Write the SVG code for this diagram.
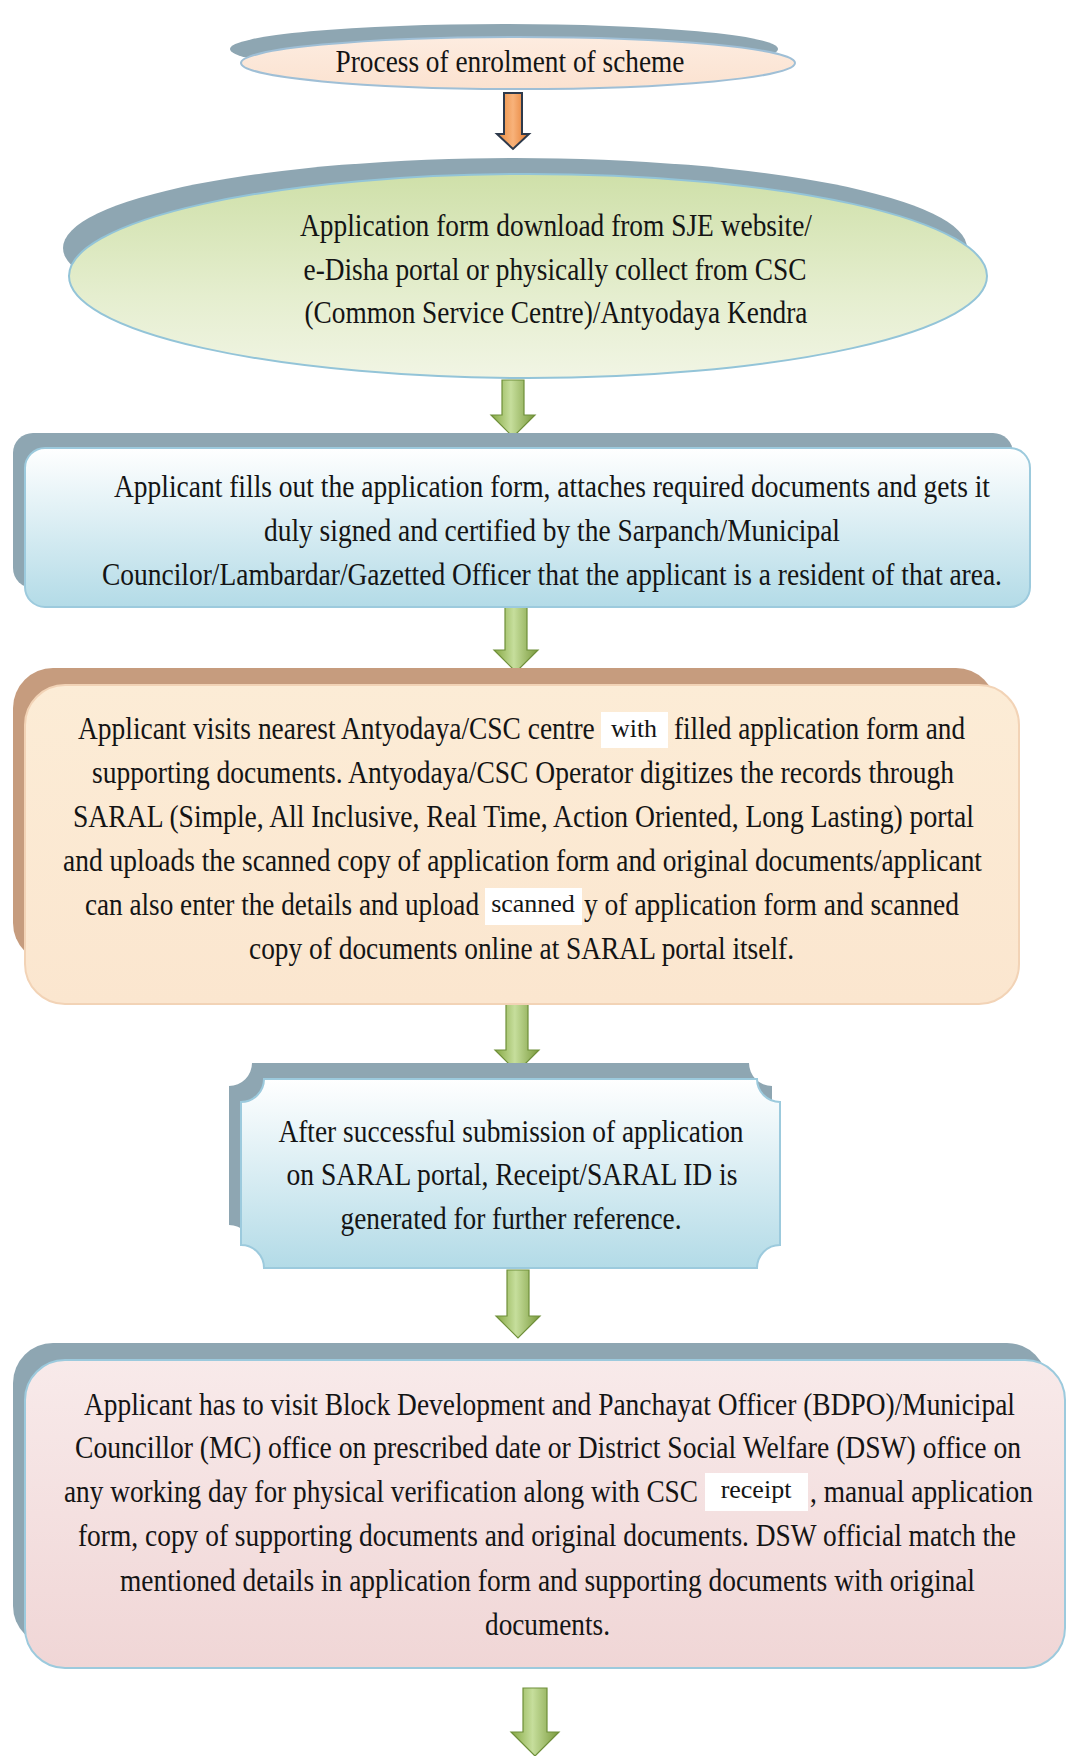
<svg xmlns="http://www.w3.org/2000/svg" width="1069" height="1756" viewBox="0 0 1069 1756">
<defs>
<style>
.t{font-family:"Liberation Serif","Times New Roman",serif;font-size:32px;fill:#141414;}
.tm{text-anchor:middle;}
.w{font-family:"Liberation Serif","Times New Roman",serif;font-size:26px;fill:#141414;text-anchor:middle;}
.wb{fill:#ffffff;}
.sh{fill:#8ea6b2;}
.ga{fill:url(#gArrow);stroke:#6f8f3a;stroke-width:1.2;}
</style>
<linearGradient id="gArrow" x1="0" y1="0" x2="1" y2="0">
<stop offset="0" stop-color="#86a843"/><stop offset="0.45" stop-color="#c6de9c"/><stop offset="1" stop-color="#7a9a3c"/>
</linearGradient>
<linearGradient id="oArrow" x1="0" y1="0" x2="1" y2="0">
<stop offset="0" stop-color="#e98a3c"/><stop offset="0.5" stop-color="#f8b27a"/><stop offset="1" stop-color="#e3782b"/>
</linearGradient>
<linearGradient id="gTitle" x1="0" y1="0" x2="0" y2="1">
<stop offset="0" stop-color="#fdece0"/><stop offset="1" stop-color="#fbe2d0"/>
</linearGradient>
<linearGradient id="gGreen" x1="0" y1="0" x2="0" y2="1">
<stop offset="0" stop-color="#cfe0a9"/><stop offset="0.6" stop-color="#e5eecf"/><stop offset="1" stop-color="#f1f5e4"/>
</linearGradient>
<linearGradient id="gBlue" x1="0" y1="0" x2="0" y2="1">
<stop offset="0" stop-color="#ffffff"/><stop offset="1" stop-color="#b3dbe7"/>
</linearGradient>
<linearGradient id="gPeach" x1="0" y1="0" x2="0" y2="1">
<stop offset="0" stop-color="#fcecd6"/><stop offset="1" stop-color="#fbe6cf"/>
</linearGradient>
<linearGradient id="gPink" x1="0" y1="0" x2="0" y2="1">
<stop offset="0" stop-color="#f8eaea"/><stop offset="1" stop-color="#f0d6d6"/>
</linearGradient>
</defs>
<rect width="1069" height="1756" fill="#ffffff"/>

<g id="connectors">
<path d="M504,93 H522 V134 H529 L513,149 L497,134 H504 Z" fill="url(#oArrow)" stroke="#2e3a4c" stroke-width="2"/>
<path d="M502,380 H524 V415 H535 L513,437 L491,415 H502 Z" class="ga"/>
<path d="M505,607 H527 V650 H538 L516,672 L494,650 H505 Z" class="ga"/>
<path d="M506,1004 H528 V1050 H539 L517,1072 L495,1050 H506 Z" class="ga"/>
<path d="M507,1270 H529 V1316 H540 L518,1338 L496,1316 H507 Z" class="ga"/>
<path d="M523,1688 H547 V1732 H559 L535,1756 L511,1732 H523 Z" class="ga"/>
</g>

<g id="node-title">
<ellipse cx="504" cy="49" rx="274" ry="25" class="sh"/>
<ellipse cx="518" cy="63" rx="277" ry="26" fill="url(#gTitle)" stroke="#9fbfd6" stroke-width="2"/>
<g transform="scale(0.8 1)">
<text x="637.5" y="72" class="t tm" textLength="436" lengthAdjust="spacingAndGlyphs">Process of enrolment of scheme</text>
</g>
</g>

<g id="node-download">
<ellipse cx="515" cy="248" rx="452" ry="90" class="sh"/>
<ellipse cx="528" cy="276" rx="459" ry="102" fill="url(#gGreen)" stroke="#93c4d8" stroke-width="2"/>
<g transform="scale(0.8 1)">
<text x="695" y="236" class="t tm" textLength="640" lengthAdjust="spacingAndGlyphs">Application form download from SJE website/</text>
<text x="693.75" y="280" class="t tm" textLength="628.75" lengthAdjust="spacingAndGlyphs">e-Disha portal or physically collect from CSC</text>
<text x="695" y="323" class="t tm" textLength="628.75" lengthAdjust="spacingAndGlyphs">(Common Service Centre)/Antyodaya Kendra</text>
</g>
</g>

<g id="node-fill">
<rect x="13" y="433" width="1000" height="155" rx="20" class="sh"/>
<rect x="25" y="448" width="1005" height="159" rx="20" fill="url(#gBlue)" stroke="#9ccadd" stroke-width="2"/>
<g transform="scale(0.8 1)">
<text x="690" y="497" class="t tm" textLength="1095" lengthAdjust="spacingAndGlyphs">Applicant fills out the application form, attaches required documents and gets it</text>
<text x="690" y="541" class="t tm" textLength="720" lengthAdjust="spacingAndGlyphs">duly signed and certified by the Sarpanch/Municipal</text>
<text x="690" y="585" class="t tm" textLength="1125" lengthAdjust="spacingAndGlyphs">Councilor/Lambardar/Gazetted Officer that the applicant is a resident of that area.</text>
</g>
</g>

<g id="node-visit-csc">
<rect x="13" y="668" width="983" height="295" rx="40" fill="#c69c7e"/>
<rect x="25" y="685" width="994" height="319" rx="40" fill="url(#gPeach)" stroke="#f2d3b6" stroke-width="2"/>
<rect x="601" y="712" width="67" height="36" class="wb"/>
<text x="634" y="737" class="w">with</text>
<rect x="485" y="888" width="97" height="37" class="wb"/>
<text x="533" y="912" class="w">scanned</text>
<g transform="scale(0.8 1)">
<text x="97.5" y="739" class="t" textLength="646" lengthAdjust="spacingAndGlyphs">Applicant visits nearest Antyodaya/CSC centre</text>
<text x="842.5" y="739" class="t" textLength="363.75" lengthAdjust="spacingAndGlyphs">filled application form and</text>
<text x="653.75" y="783" class="t tm" textLength="1077.5" lengthAdjust="spacingAndGlyphs">supporting documents. Antyodaya/CSC Operator digitizes the records through</text>
<text x="654.375" y="827" class="t tm" textLength="1126.25" lengthAdjust="spacingAndGlyphs">SARAL (Simple, All Inclusive, Real Time, Action Oriented, Long Lasting) portal</text>
<text x="653.125" y="871" class="t tm" textLength="1148.75" lengthAdjust="spacingAndGlyphs">and uploads the scanned copy of application form and original documents/applicant</text>
<text x="106.25" y="915" class="t" textLength="492.5" lengthAdjust="spacingAndGlyphs">can also enter the details and upload</text>
<text x="730" y="915" class="t" textLength="468.75" lengthAdjust="spacingAndGlyphs">y of application form and scanned</text>
<text x="651.875" y="959" class="t tm" textLength="681.25" lengthAdjust="spacingAndGlyphs">copy of documents online at SARAL portal itself.</text>
</g>
</g>

<g id="node-receipt">
<path d="M252,1063 H749 A23,23 0 0 0 772,1086 V1225 A23,23 0 0 0 749,1248 H252 A23,23 0 0 0 229,1225 V1086 A23,23 0 0 0 252,1063 Z" class="sh"/>
<path d="M264,1079 H757 A23,23 0 0 0 780,1102 V1245 A23,23 0 0 0 757,1268 H264 A23,23 0 0 0 241,1245 V1102 A23,23 0 0 0 264,1079 Z" fill="url(#gBlue)" stroke="#9ccadd" stroke-width="2"/>
<g transform="scale(0.8 1)">
<text x="638.75" y="1142" class="t tm" textLength="581.25" lengthAdjust="spacingAndGlyphs">After successful submission of application</text>
<text x="640" y="1185" class="t tm" textLength="563.75" lengthAdjust="spacingAndGlyphs">on SARAL portal, Receipt/SARAL ID is</text>
<text x="638.75" y="1229" class="t tm" textLength="426.25" lengthAdjust="spacingAndGlyphs">generated for further reference.</text>
</g>
</g>

<g id="node-verification">
<rect x="13" y="1343" width="1034" height="303" rx="40" class="sh"/>
<rect x="25" y="1360" width="1040" height="308" rx="40" fill="url(#gPink)" stroke="#9ccadd" stroke-width="2"/>
<rect x="705" y="1473" width="103" height="38" class="wb"/>
<text x="756" y="1498" class="w">receipt</text>
<g transform="scale(0.8 1)">
<text x="686.875" y="1415" class="t tm" textLength="1163.75" lengthAdjust="spacingAndGlyphs">Applicant has to visit Block Development and Panchayat Officer (BDPO)/Municipal</text>
<text x="685" y="1458" class="t tm" textLength="1182.5" lengthAdjust="spacingAndGlyphs">Councillor (MC) office on prescribed date or District Social Welfare (DSW) office on</text>
<text x="80" y="1502" class="t" textLength="792.5" lengthAdjust="spacingAndGlyphs">any working day for physical verification along with CSC</text>
<text x="1012.5" y="1502" class="t" textLength="278.75" lengthAdjust="spacingAndGlyphs">, manual application</text>
<text x="683.75" y="1546" class="t tm" textLength="1172.5" lengthAdjust="spacingAndGlyphs">form, copy of supporting documents and original documents. DSW official match the</text>
<text x="684.375" y="1591" class="t tm" textLength="1068.75" lengthAdjust="spacingAndGlyphs">mentioned details in application form and supporting documents with original</text>
<text x="684.375" y="1635" class="t tm" textLength="156.25" lengthAdjust="spacingAndGlyphs">documents.</text>
</g>
</g>
</svg>
